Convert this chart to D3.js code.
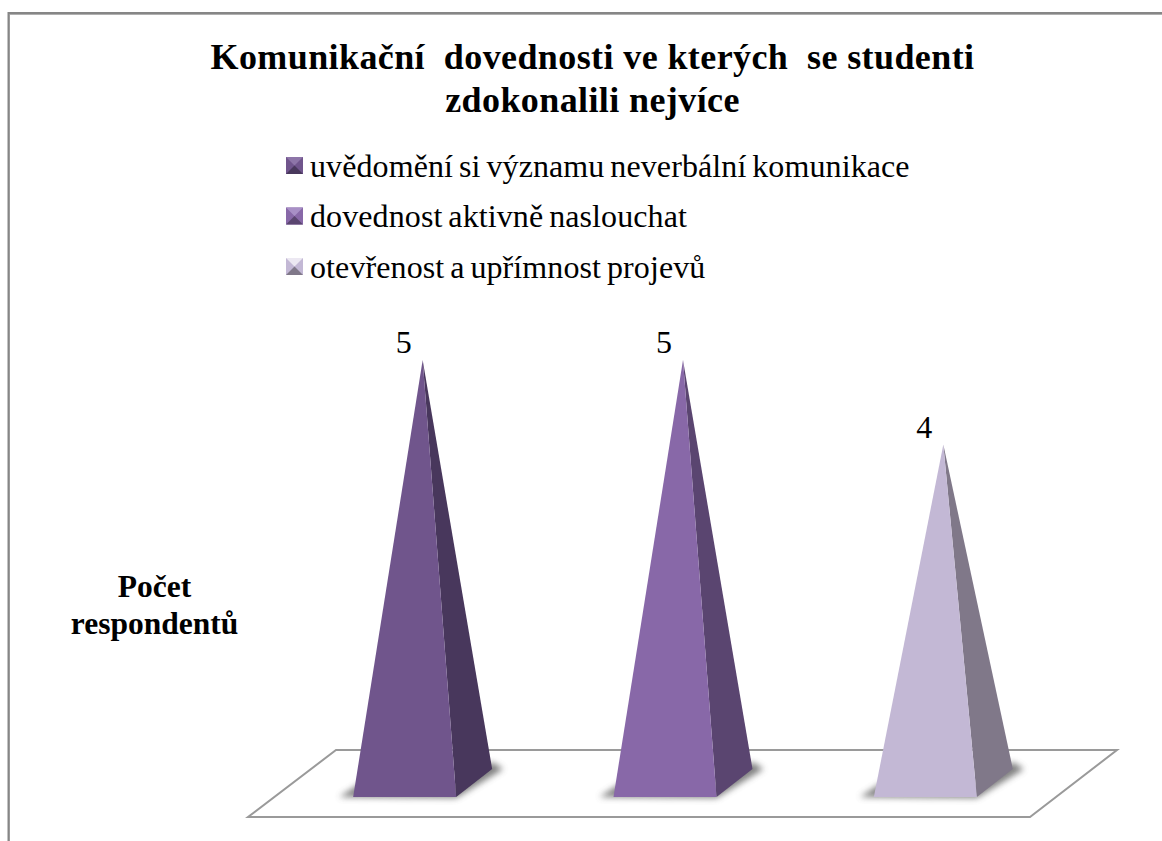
<!DOCTYPE html>
<html><head><meta charset="utf-8">
<script src="https://cdn.jsdelivr.net/npm/d3@7/dist/d3.min.js"></script>
<style>html,body{margin:0;padding:0;background:#fff;overflow:hidden}svg{display:block}text{font-family:"Liberation Serif",serif;fill:#000}</style>
</head><body><svg id="c" width="1162" height="841"></svg>
<script>
const titleLines = ["Komunikační  dovednosti ve kterých  se studenti", "zdokonalili nejvíce"];
const categories = ["uvědomění si významu neverbální komunikace", "dovednost aktivně naslouchat", "otevřenost a upřímnost projevů"];
const values = [5, 5, 4];
const frontColors = ["#70558c", "#8868a8", "#c3b8d5"];
const sideColors = ["#48375c", "#5a4570", "#807889"];
const legendLight = ["#8d74a8", "#a88fc6", "#ece8f2"];
const yLabel = ["Počet", "respondentů"];

const svg = d3.select("#c");
const defs = svg.append("defs");
defs.append("filter").attr("id","blur").attr("x","-30%").attr("y","-100%").attr("width","160%").attr("height","300%")
  .append("feGaussianBlur").attr("stdDeviation",3);
defs.append("filter").attr("id","soft").append("feGaussianBlur").attr("stdDeviation",0.6);

// frame
svg.append("path").attr("d","M9,841V14H1162").attr("fill","none").attr("stroke","#b0b0b0").attr("stroke-width",2);
svg.append("path").attr("d","M8.5,841V13H1162").attr("fill","none").attr("stroke","#868686").attr("stroke-width",2);

// title
const title = svg.append("text").attr("text-anchor","middle").attr("font-weight","bold").attr("font-size",36).attr("letter-spacing",0.4);
titleLines.forEach((t,i)=>title.append("tspan").style("white-space","pre").attr("x",592.5).attr("y",69+i*43).text(t));

// legend
const lg = svg.append("g").selectAll("g").data(categories).join("g")
  .attr("transform",(d,i)=>`translate(286,${157+i*50.5})`);
const S = 17;
const icon = lg.append("g").attr("filter","url(#soft)");
icon.append("rect").attr("width",S).attr("height",S).attr("fill",(d,i)=>frontColors[i]);
icon.append("path").attr("d",`M0,0L${S},0L${S/2},${S/2}Z`).attr("fill",(d,i)=>legendLight[i]);
icon.append("path").attr("d",`M0,${S}L${S},${S}L${S/2},${S/2}Z`).attr("fill",(d,i)=>sideColors[i]);
lg.append("text").attr("x",24).attr("y",19.5).attr("font-size",32).attr("word-spacing",-2.2).attr("letter-spacing",0.1).text(d=>d);

// scales
const x = d3.scaleBand().domain(categories).range([274.5,1055.5]);
const y = d3.scaleLinear().domain([0,5]).range([783,360]);
const baseW = 103, dx = 36, dy = 28, frontY = 797;
const cx = d => x(d)+x.bandwidth()/2;

// floor
const fy0 = 750, fy1 = 817;
svg.append("path").attr("d",`M248,${fy1}H1030L1117,${fy0}H336Z`).attr("fill","#fff").attr("stroke","#9a9a9a").attr("stroke-width",2);

// pyramids
const p = svg.append("g").selectAll("g").data(categories).join("g");
p.append("path").attr("filter","url(#blur)").attr("fill","#555").attr("opacity",.75)
  .attr("d",d=>{const c=cx(d),r=c+baseW/2,l=c-baseW/2;return `M${l-14},${frontY}L${r},${frontY+1}L${r+dx+11},${frontY-dy}L${r+dx},${frontY-dy-7}L${r},${frontY-12}L${l+8},${frontY-14}Z`});
p.append("path").attr("fill",(d,i)=>sideColors[i])
  .attr("d",(d,i)=>{const c=cx(d);return `M${c+baseW/2},${frontY}L${c+baseW/2+dx},${frontY-dy}L${c+dx/2},${y(values[i])}Z`});
p.append("path").attr("fill",(d,i)=>frontColors[i])
  .attr("d",(d,i)=>{const c=cx(d);return `M${c-baseW/2},${frontY}L${c+baseW/2},${frontY}L${c+dx/2},${y(values[i])}Z`});
p.append("text").attr("text-anchor","middle").attr("font-size",32).attr("x",d=>cx(d)-1).attr("y",(d,i)=>y(values[i])-7).text((d,i)=>values[i]);

// y label
const yl = svg.append("text").attr("text-anchor","middle").attr("font-weight","bold").attr("font-size",31.5);
yLabel.forEach((t,i)=>yl.append("tspan").attr("x",154.5).attr("y",597+i*37).text(t));
</script></body></html>
